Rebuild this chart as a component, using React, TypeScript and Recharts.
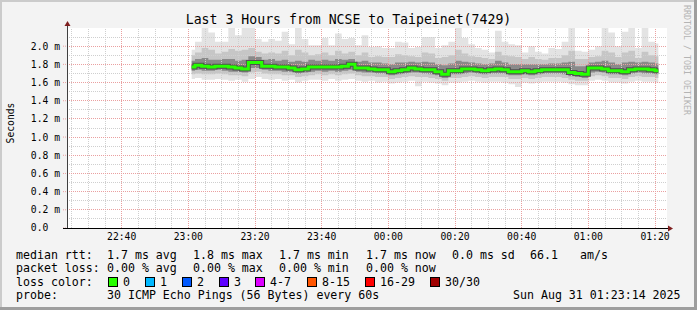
import React from 'react'
import { Area, ComposedChart, Line, ReferenceLine, XAxis, YAxis } from 'recharts'

// time = minutes since 22:00, one sample every 2 minutes (23:01 .. 01:21)
const START = 61
const STEP = 2

// round-trip times in ms
const median = [
  1.77, 1.79, 1.78, 1.77, 1.78, 1.78, 1.77, 1.76, 1.75, 1.82,
  1.82, 1.78, 1.78, 1.77, 1.77, 1.76, 1.74, 1.75, 1.77, 1.77,
  1.77, 1.77, 1.77, 1.78, 1.8, 1.76, 1.76, 1.75, 1.74, 1.74,
  1.72, 1.73, 1.74, 1.76, 1.75, 1.74, 1.74, 1.72, 1.69, 1.73,
  1.73, 1.75, 1.75, 1.74, 1.73, 1.74, 1.75, 1.74, 1.72, 1.72,
  1.73, 1.72, 1.73, 1.74, 1.74, 1.74, 1.74, 1.71, 1.7, 1.69,
  1.76, 1.76, 1.75, 1.73, 1.73, 1.72, 1.74, 1.75, 1.75, 1.74,
  1.73,
]
const rttMax = [
  1.96, 2.05, 2.2, 2.15, 2.05, 2.05, 2.2, 2.12, 2.2, 2.2,
  2.08, 2.05, 2.08, 2.06, 2.16, 2.02, 2.2, 2.08, 2.01, 2.01,
  2.09, 2.01, 2.14, 2.08, 2.09, 2.01, 2.12, 1.99, 2.0, 1.98,
  1.98, 2.05, 2.04, 1.98, 1.99, 2.1, 2.1, 1.98, 2.01, 2.05,
  2.2, 2.09, 2.02, 1.98, 1.96, 1.93, 2.17, 2.05, 2.02, 2.01,
  1.93, 2.0, 1.94, 1.92, 1.98, 1.97, 2.05, 2.2, 1.95, 1.94,
  1.96, 2.0, 2.2, 2.15, 2.0, 2.16, 2.2, 1.98, 2.2, 2.05,
  2.03,
]
const p90 = [
  1.9, 1.93, 1.98, 1.96, 1.92, 1.94, 1.97, 1.95, 1.96, 1.98,
  1.94, 1.92, 1.93, 1.92, 1.95, 1.9, 1.96, 1.93, 1.9, 1.91,
  1.93, 1.9, 1.95, 1.92, 1.94, 1.9, 1.93, 1.88, 1.89, 1.88,
  1.88, 1.91, 1.9, 1.89, 1.88, 1.93, 1.92, 1.87, 1.88, 1.9,
  1.96, 1.92, 1.89, 1.88, 1.87, 1.86, 1.94, 1.9, 1.89, 1.88,
  1.86, 1.88, 1.86, 1.85, 1.87, 1.87, 1.9, 1.95, 1.86, 1.86,
  1.88, 1.89, 1.95, 1.93, 1.88, 1.93, 1.95, 1.87, 1.94, 1.9,
  1.89,
]
const p75 = [
  1.84, 1.86, 1.87, 1.85, 1.85, 1.86, 1.86, 1.84, 1.85, 1.89,
  1.88, 1.85, 1.86, 1.84, 1.85, 1.83, 1.84, 1.83, 1.85, 1.84,
  1.85, 1.84, 1.86, 1.85, 1.86, 1.83, 1.84, 1.82, 1.82, 1.81,
  1.8, 1.82, 1.82, 1.83, 1.82, 1.83, 1.82, 1.8, 1.79, 1.81,
  1.84, 1.83, 1.82, 1.81, 1.8, 1.81, 1.84, 1.82, 1.8, 1.8,
  1.8, 1.8, 1.8, 1.8, 1.81, 1.81, 1.82, 1.83, 1.78, 1.78,
  1.82, 1.83, 1.84, 1.82, 1.8, 1.82, 1.83, 1.82, 1.83, 1.82,
  1.81,
]
const p25 = [
  1.73, 1.74, 1.73, 1.73, 1.74, 1.73, 1.72, 1.72, 1.71, 1.76,
  1.76, 1.74, 1.73, 1.73, 1.72, 1.72, 1.7, 1.71, 1.72, 1.73,
  1.72, 1.73, 1.72, 1.73, 1.74, 1.72, 1.71, 1.71, 1.7, 1.7,
  1.68, 1.69, 1.7, 1.71, 1.71, 1.7, 1.69, 1.68, 1.65, 1.69,
  1.69, 1.7, 1.71, 1.7, 1.69, 1.7, 1.7, 1.7, 1.68, 1.68,
  1.69, 1.68, 1.69, 1.7, 1.7, 1.7, 1.69, 1.67, 1.66, 1.65,
  1.71, 1.72, 1.71, 1.69, 1.69, 1.68, 1.7, 1.71, 1.7, 1.7,
  1.69,
]
const p10 = [
  1.69, 1.7, 1.69, 1.69, 1.7, 1.69, 1.68, 1.68, 1.67, 1.71,
  1.72, 1.7, 1.69, 1.69, 1.68, 1.68, 1.66, 1.67, 1.68, 1.69,
  1.68, 1.69, 1.68, 1.69, 1.7, 1.68, 1.67, 1.67, 1.66, 1.66,
  1.64, 1.65, 1.66, 1.67, 1.66, 1.66, 1.65, 1.64, 1.62, 1.65,
  1.65, 1.66, 1.67, 1.66, 1.65, 1.66, 1.66, 1.66, 1.64, 1.64,
  1.65, 1.64, 1.65, 1.66, 1.66, 1.66, 1.65, 1.63, 1.62, 1.62,
  1.67, 1.68, 1.67, 1.65, 1.65, 1.64, 1.66, 1.67, 1.66, 1.66,
  1.65,
]
const rttMin = [
  1.64, 1.65, 1.63, 1.63, 1.64, 1.63, 1.62, 1.63, 1.61, 1.64,
  1.66, 1.64, 1.63, 1.64, 1.62, 1.63, 1.6, 1.62, 1.63, 1.63,
  1.62, 1.64, 1.62, 1.63, 1.64, 1.62, 1.61, 1.62, 1.6, 1.61,
  1.59, 1.6, 1.61, 1.62, 1.56, 1.61, 1.6, 1.59, 1.57, 1.6,
  1.6, 1.61, 1.62, 1.61, 1.6, 1.61, 1.61, 1.6, 1.58, 1.55,
  1.6, 1.59, 1.6, 1.61, 1.61, 1.61, 1.6, 1.58, 1.57, 1.57,
  1.62, 1.63, 1.62, 1.6, 1.6, 1.59, 1.61, 1.62, 1.61, 1.61,
  1.6,
]

const timeTicks = [40, 60, 80, 100, 120, 140, 160, 180, 200]
const timeLabels = ['22:40', '23:00', '23:20', '23:40', '00:00', '00:20', '00:40', '01:00', '01:20']
const rttTicks = [0, 0.2, 0.4, 0.6, 0.8, 1.0, 1.2, 1.4, 1.6, 1.8, 2.0]
const rttLabels = ['0.0\u00a0\u00a0', '0.2 m', '0.4 m', '0.6 m', '0.8 m', '1.0 m', '1.2 m', '1.4 m', '1.6 m', '1.8 m', '2.0 m']

// minor grid: every 5 minutes / every 0.1 ms
const minorTimes = Array.from({ length: 36 }, (_, k) => 25 + 5 * k)
const minorRtt = Array.from({ length: 21 }, (_, k) => Math.round((k + 1) * 10) / 100)

const lossColors = [
  { label: '0', color: '#26ff00', x: 108 },
  { label: '1', color: '#00b8ff', x: 145 },
  { label: '2', color: '#0059ff', x: 182 },
  { label: '3', color: '#5e00ff', x: 219 },
  { label: '4-7', color: '#dd00ff', x: 255 },
  { label: '8-15', color: '#ff5500', x: 307 },
  { label: '16-29', color: '#ff0000', x: 365 },
  { label: '30/30', color: '#a00000', x: 430 },
]

const data = median.map((m, i) => ({
  t: START + i * STEP,
  median: m,
  outer: [rttMin[i], rttMax[i]],
  mid: [p10[i], p90[i]],
  inner: [p25[i], p75[i]],
}))

const MONO = '"DejaVu Sans Mono", monospace'
const MINOR = '#cfcfcf'
const MAJOR = '#eaa0a0'

export default function App() {
  const txt = { fontFamily: MONO, fontSize: 11.6, fill: '#000' }
  return (
    <div style={{ position: 'absolute', left: 0, top: 0, width: 697, height: 310, background: '#f3f3f3' }}>
      <div style={{ position: 'absolute', left: 67, top: 28, width: 600, height: 200, background: '#fff' }} />
      <ComposedChart
        width={697}
        height={310}
        data={data}
        margin={{ top: 28, right: 30, bottom: 62, left: 17 }}
        style={{ position: 'absolute', left: 0, top: 0 }}
      >
        <XAxis
          dataKey="t"
          type="number"
          domain={[23.6, 203.6]}
          allowDataOverflow
          ticks={timeTicks}
          tickFormatter={(v) => timeLabels[timeTicks.indexOf(v)] ?? ''}
          height={20}
          axisLine={false}
          tickLine={false}
          tickSize={0}
          tickMargin={5}
          tick={{ fontFamily: MONO, fontSize: 9.7, fill: '#000' }}
        />
        <YAxis
          type="number"
          domain={[0, 2.2]}
          allowDataOverflow
          ticks={rttTicks}
          tickFormatter={(v) => rttLabels[rttTicks.indexOf(v)] ?? ''}
          width={50}
          axisLine={false}
          tickLine={{ stroke: MAJOR, strokeDasharray: '1 1' }}
          tickSize={4}
          tickMargin={3}
          tick={{ fontFamily: MONO, fontSize: 9.7, fill: '#000' }}
        />
        <Area dataKey="outer" type="step" stroke="none" fill="#e3e3e3" fillOpacity={1} isAnimationActive={false} />
        <Area dataKey="mid" type="step" stroke="none" fill="#c6c6c6" fillOpacity={1} isAnimationActive={false} />
        <Area dataKey="inner" type="step" stroke="none" fill="#8a8a8a" fillOpacity={1} isAnimationActive={false} />
        {minorTimes.map((v) => (
          <ReferenceLine key={'mx' + v} x={v} stroke={MINOR} strokeDasharray="1 1" shapeRendering="crispEdges" />
        ))}
        {minorRtt.map((v) => (
          <ReferenceLine key={'my' + v} y={v} stroke={MINOR} strokeDasharray="1 1" shapeRendering="crispEdges" />
        ))}
        {timeTicks.map((v) => (
          <ReferenceLine key={'Mx' + v} x={v} stroke={MAJOR} strokeDasharray="1 1" shapeRendering="crispEdges" />
        ))}
        {rttTicks.slice(1).map((v) => (
          <ReferenceLine key={'My' + v} y={v} stroke={MAJOR} strokeDasharray="1 1" shapeRendering="crispEdges" />
        ))}
        <Line dataKey="median" type="step" stroke="#505050" strokeWidth={5} dot={false} isAnimationActive={false} />
        <Line dataKey="median" type="step" stroke="#26ff00" strokeWidth={3} dot={false} isAnimationActive={false} />
      </ComposedChart>

      <svg width={697} height={310} style={{ position: 'absolute', left: 0, top: 0, pointerEvents: 'none' }}>
        {/* frame */}
        <rect x={0} y={0} width={697} height={2} fill="#cbcbcb" />
        <rect x={0} y={0} width={2} height={310} fill="#cbcbcb" />
        <rect x={0} y={307} width={697} height={3} fill="#9e9e9e" />
        <rect x={694} y={0} width={3} height={310} fill="#9e9e9e" />

        {/* axes + arrows */}
        <line x1={67.5} y1={228} x2={67.5} y2={25} stroke="#404040" />
        <line x1={63} y1={228.5} x2={669} y2={228.5} stroke="#000" />
        <path d="M64.5,26 L67.5,21 L70.5,26 Z" fill="#7f1f1f" />
        <path d="M668,225.5 L673,228.5 L668,231.5 Z" fill="#7f1f1f" />

        <text x={348.5} y={24} textAnchor="middle" style={{ fontFamily: MONO, fontSize: 13.2, fill: '#000' }}>
          Last 3 Hours from NCSE to Taipeinet(7429)
        </text>
        <text
          transform="translate(10,123) rotate(-90)"
          textAnchor="middle"
          dominantBaseline="central"
          style={{ fontFamily: MONO, fontSize: 9.7, fill: '#000' }}
        >
          Seconds
        </text>
        <text
          transform="translate(687,5) rotate(90)"
          dominantBaseline="central"
          style={{ fontFamily: MONO, fontSize: 8.3, fill: '#b4b4b4' }}
        >
          RRDTOOL / TOBI OETIKER
        </text>

        {/* legend */}
        <g style={txt}>
          <text x={16} y={258.5}>median rtt:</text>
          <text x={107} y={258.5}>1.7 ms avg</text>
          <text x={193} y={258.5}>1.8 ms max</text>
          <text x={279} y={258.5}>1.7 ms min</text>
          <text x={366} y={258.5}>1.7 ms now</text>
          <text x={452} y={258.5}>0.0 ms sd</text>
          <text x={530} y={258.5}>66.1</text>
          <text x={580} y={258.5}>am/s</text>

          <text x={16} y={272}>packet loss:</text>
          <text x={107} y={272}>0.00 % avg</text>
          <text x={193} y={272}>0.00 % max</text>
          <text x={279} y={272}>0.00 % min</text>
          <text x={366} y={272}>0.00 % now</text>

          <text x={16} y={285.5}>loss color:</text>
          {lossColors.map((c) => (
            <g key={c.label}>
              <rect x={c.x + 0.5} y={277.5} width={9} height={9} fill={c.color} stroke="#000" />
              <text x={c.x + 15} y={285.5}>{c.label}</text>
            </g>
          ))}

          <text x={16} y={299}>probe:</text>
          <text x={107} y={299}>30 ICMP Echo Pings (56 Bytes) every 60s</text>
          <text x={513} y={299}>Sun Aug 31 01:23:14 2025</text>
        </g>
      </svg>
    </div>
  )
}
